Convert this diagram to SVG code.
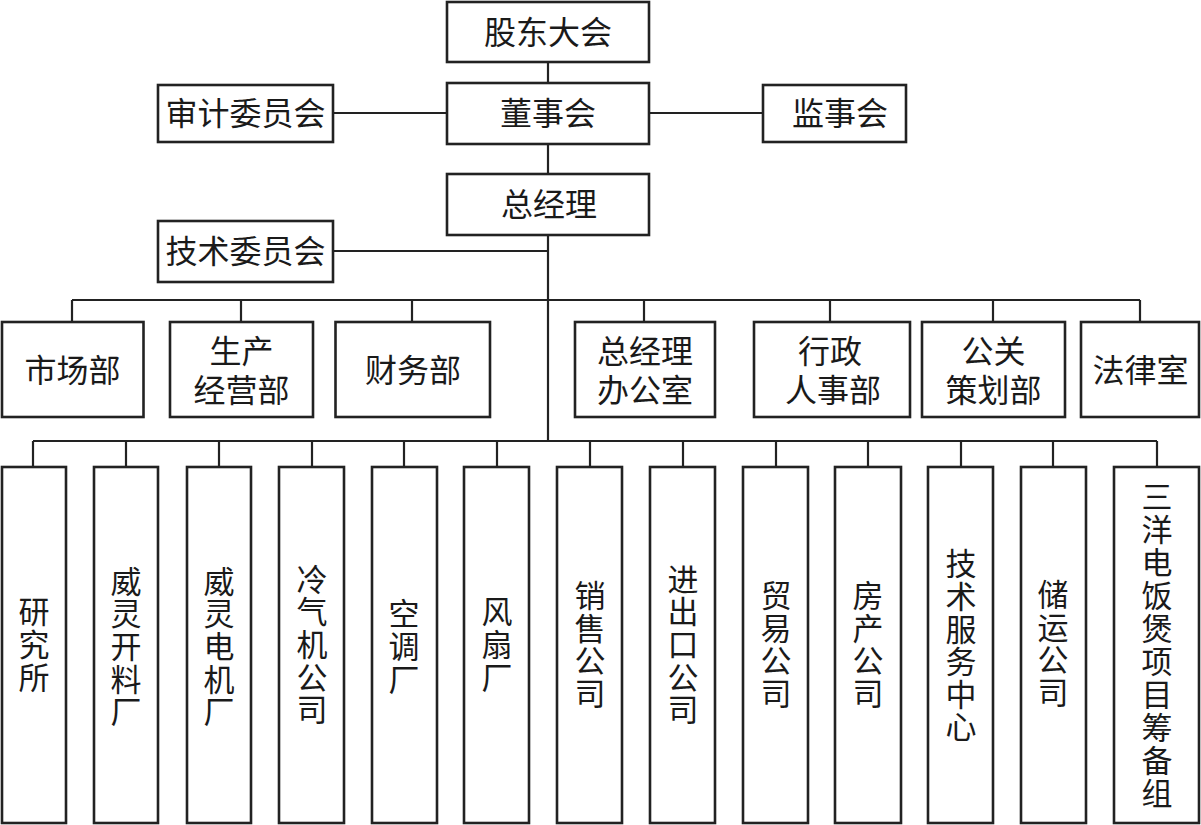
<svg xmlns="http://www.w3.org/2000/svg" width="1201" height="825" viewBox="0 0 1201 825">
<style>
rect{fill:#fff;stroke:#222;stroke-width:2.6}
.c line{stroke:#222;stroke-width:2.2}
text{font-family:"Noto Sans CJK SC","Noto Sans CJK JP",sans-serif;fill:#1a1a1a;text-anchor:middle}
.h{font-size:32px}
.v{font-size:31px;writing-mode:vertical-rl;letter-spacing:1.6px}
</style>
<rect x="0" y="0" width="1201" height="825" style="stroke:none"/>
<g class="c">
<line x1="548" y1="62" x2="548" y2="83"/>
<line x1="548" y1="144" x2="548" y2="174"/>
<line x1="333" y1="113" x2="447" y2="113"/>
<line x1="649" y1="113" x2="763" y2="113"/>
<line x1="548" y1="235" x2="548" y2="441"/>
<line x1="333" y1="251" x2="548" y2="251"/>
<line x1="72" y1="300" x2="1140" y2="300"/>
<line x1="72" y1="300" x2="72" y2="322"/>
<line x1="241" y1="300" x2="241" y2="322"/>
<line x1="412" y1="300" x2="412" y2="322"/>
<line x1="644" y1="300" x2="644" y2="322"/>
<line x1="830" y1="300" x2="830" y2="322"/>
<line x1="993" y1="300" x2="993" y2="322"/>
<line x1="1140" y1="300" x2="1140" y2="322"/>
<line x1="33" y1="441" x2="1157" y2="441"/>
<line x1="33" y1="441" x2="33" y2="467"/>
<line x1="126" y1="441" x2="126" y2="467"/>
<line x1="219" y1="441" x2="219" y2="467"/>
<line x1="312" y1="441" x2="312" y2="467"/>
<line x1="404" y1="441" x2="404" y2="467"/>
<line x1="497" y1="441" x2="497" y2="467"/>
<line x1="590" y1="441" x2="590" y2="467"/>
<line x1="683" y1="441" x2="683" y2="467"/>
<line x1="776" y1="441" x2="776" y2="467"/>
<line x1="868" y1="441" x2="868" y2="467"/>
<line x1="961" y1="441" x2="961" y2="467"/>
<line x1="1053" y1="441" x2="1053" y2="467"/>
<line x1="1157" y1="441" x2="1157" y2="467"/>
</g>
<g id="gudong"><rect x="447" y="2" width="202" height="60"/><text class="h" x="548" y="44">股东大会</text></g>
<g id="dongshi"><rect x="447" y="83" width="202" height="61"/><text class="h" x="548" y="125">董事会</text></g>
<g id="shenji"><rect x="158" y="85" width="175" height="57"/><text class="h" x="245.5" y="125">审计委员会</text></g>
<g id="jianshi"><rect x="763" y="85" width="143" height="57"/><text class="h" x="840" y="125">监事会</text></g>
<g id="zongjingli"><rect x="447" y="174" width="202" height="61"/><text class="h" x="549" y="216">总经理</text></g>
<g id="jishuwei"><rect x="158" y="221" width="175" height="61"/><text class="h" x="245.5" y="263">技术委员会</text></g>
<g id="shichang"><rect x="2" y="322" width="141.5" height="95"/><text class="h" x="72.5" y="382">市场部</text></g>
<g id="shengchan"><rect x="170" y="322" width="143" height="95"/><text class="h"><tspan x="241.5" y="363">生产</tspan><tspan x="241.5" y="402">经营部</tspan></text></g>
<g id="caiwu"><rect x="335.5" y="322" width="154.5" height="95"/><text class="h" x="413" y="382">财务部</text></g>
<g id="zjlban"><rect x="575" y="322" width="140" height="95"/><text class="h"><tspan x="645" y="363">总经理</tspan><tspan x="645" y="402">办公室</tspan></text></g>
<g id="xingzheng"><rect x="754" y="322" width="156" height="95"/><text class="h"><tspan x="830" y="363">行政</tspan><tspan x="833" y="402">人事部</tspan></text></g>
<g id="gongguan"><rect x="922" y="322" width="143" height="95"/><text class="h"><tspan x="993.5" y="363">公关</tspan><tspan x="993.5" y="402">策划部</tspan></text></g>
<g id="falv"><rect x="1081" y="322" width="118" height="95"/><text class="h" x="1140.5" y="382">法律室</text></g>
<g id="yanjiu"><rect x="2" y="467" width="64" height="356"/><text class="v" x="34" y="645">研究所</text></g>
<g id="kailiao"><rect x="94" y="467" width="64" height="356"/><text class="v" x="126" y="647">威灵开料厂</text></g>
<g id="dianji"><rect x="187" y="467" width="64" height="356"/><text class="v" x="219" y="647">威灵电机厂</text></g>
<g id="lengqi"><rect x="279" y="467" width="65" height="356"/><text class="v" x="312" y="645">冷气机公司</text></g>
<g id="kongtiao"><rect x="372" y="467" width="65" height="356"/><text class="v" x="404" y="647">空调厂</text></g>
<g id="fengshan"><rect x="464" y="467" width="65" height="356"/><text class="v" x="497" y="645">风扇厂</text></g>
<g id="xiaoshou"><rect x="557" y="467" width="65" height="356"/><text class="v" x="590" y="645">销售公司</text></g>
<g id="jinchukou"><rect x="650" y="467" width="65" height="356"/><text class="v" x="683" y="645">进出口公司</text></g>
<g id="maoyi"><rect x="743" y="467" width="65" height="356"/><text class="v" x="776" y="645">贸易公司</text></g>
<g id="fangchan"><rect x="835" y="467" width="66" height="356"/><text class="v" x="868" y="645">房产公司</text></g>
<g id="jishufuwu"><rect x="928" y="467" width="65" height="356"/><text class="v" x="961" y="646">技术服务中心</text></g>
<g id="chuyun"><rect x="1021" y="467" width="65" height="356"/><text class="v" x="1053" y="644">储运公司</text></g>
<g id="sanyang"><rect x="1114" y="467" width="85" height="356"/><text class="v" x="1157" y="646" style="letter-spacing:2px">三洋电饭煲项目筹备组</text></g>
</svg>
